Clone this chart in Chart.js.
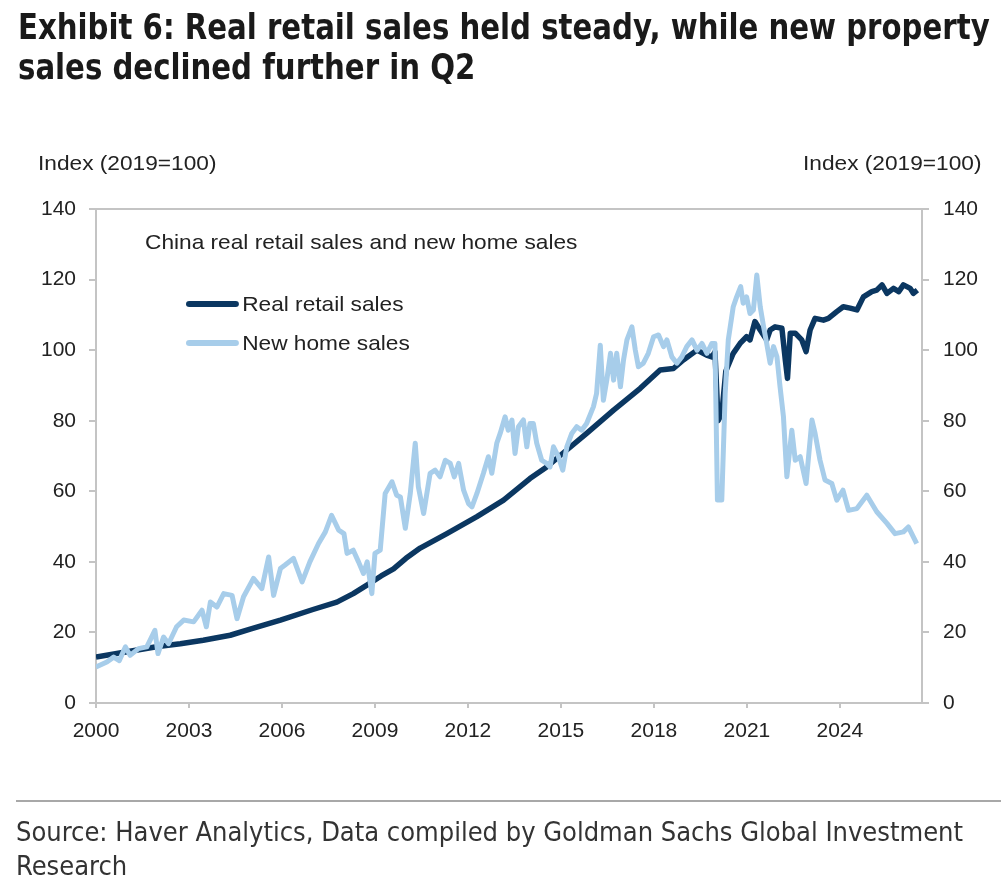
<!DOCTYPE html>
<html>
<head>
<meta charset="utf-8">
<script src="https://cdn.jsdelivr.net/npm/chart.js@4.4.1/dist/chart.umd.min.js"></script>
<style>
  html, body { margin: 0; padding: 0; background: #fff; }
  body { width: 1008px; height: 880px; position: relative; overflow: hidden; font-family: "Liberation Sans", Arial, sans-serif; color: #222; }
  #chart { position: absolute; left: 0; top: 0; }
  .title { position: absolute; left: 18px; font-family: "DejaVu Sans", sans-serif; font-stretch: condensed; font-weight: bold; font-size: 35px; line-height: 40px; color: #1a1a1a; white-space: nowrap; transform-origin: 0 0; }
  .wide { position: absolute; white-space: nowrap; transform-origin: 0 50%; transform: scaleX(1.08); }
  .axis-title { top: 151px; font-size: 21px; }
  .subtitle { left: 145px; top: 230px; font-size: 21px; }
  .legend { left: 186px; font-size: 21px; }
  .legend span.key { display: inline-block; width: 49px; height: 6px; border-radius: 3px; vertical-align: middle; margin-right: 3px; position: relative; top: -1px; }
  .rule { position: absolute; left: 16px; top: 800px; width: 985px; height: 2px; background: #a8a8a8; }
  .source { position: absolute; left: 16px; top: 815px; font-family: "DejaVu Sans", sans-serif; font-stretch: condensed; font-size: 27px; line-height: 34px; color: #333; }
</style>
</head>
<body>
<canvas id="chart" width="1008" height="880"></canvas>
<div class="title" id="t1" style="top:7px">Exhibit 6: Real retail sales held steady, while new property</div>
<div class="title" id="t2" style="top:47px">sales declined further in Q2</div>
<div class="wide axis-title" style="left:38px">Index (2019=100)</div>
<div class="wide axis-title" style="left:803px">Index (2019=100)</div>
<div class="wide subtitle">China real retail sales and new home sales</div>
<div class="wide legend" style="top:292px"><span class="key" style="background:#0b3761"></span>Real retail sales</div>
<div class="wide legend" style="top:331px"><span class="key" style="background:#a7cdea"></span>New home sales</div>
<div class="rule"></div>
<div class="source">Source: Haver Analytics, Data compiled by Goldman Sachs Global Investment<br>Research</div>
<script>
// Real retail sales, index 2019=100
const retailYears = [
  2000.00, 2001.00, 2002.00, 2002.72, 2003.46, 2004.33, 2005.00, 2005.95, 2007.00, 2007.77,
  2008.30, 2008.74, 2009.20, 2009.60, 2010.00, 2010.46, 2011.32, 2012.29, 2013.15, 2014.00,
  2014.54, 2015.19, 2015.83, 2016.70, 2017.56, 2018.20, 2018.63, 2018.95, 2019.39, 2019.70,
  2019.87, 2019.97, 2020.07, 2020.19, 2020.32, 2020.56, 2020.78, 2020.99, 2021.10, 2021.26,
  2021.43, 2021.64, 2021.75, 2021.91, 2022.13, 2022.24, 2022.31, 2022.40, 2022.56, 2022.77,
  2022.91, 2023.04, 2023.20, 2023.47, 2023.63, 2023.90, 2024.11, 2024.33, 2024.55, 2024.76,
  2025.03, 2025.19, 2025.36, 2025.52, 2025.73, 2025.90, 2026.05, 2026.27, 2026.37, 2026.50
];
const retailValues = [
  13.0, 14.5, 16.0, 16.8, 17.8, 19.2, 21.0, 23.5, 26.5, 28.6,
  31.0, 33.4, 36.0, 38.0, 41.0, 43.9, 48.0, 52.8, 57.5, 63.6,
  66.9, 71.7, 76.4, 83.0, 89.2, 94.4, 94.8, 97.2, 100.0, 98.6,
  98.1, 99.5, 80.0, 82.0, 94.0, 99.1, 101.9, 103.8, 102.9, 108.1,
  105.7, 102.9, 105.7, 106.6, 106.2, 97.2, 92.0, 104.8, 104.8, 102.9,
  99.6, 105.7, 109.0, 108.5, 109.0, 110.9, 112.3, 111.9, 111.4, 115.1,
  116.6, 117.0, 118.5, 116.1, 117.5, 116.6, 118.5, 117.5, 116.1, 117.0
];

// New home sales, index 2019=100
const homeYears = [
  2000.00, 2000.35, 2000.57, 2000.75, 2000.95, 2001.10, 2001.37, 2001.64, 2001.90, 2002.00,
  2002.18, 2002.34, 2002.60, 2002.83, 2003.15, 2003.42, 2003.56, 2003.69, 2003.90, 2004.12,
  2004.39, 2004.55, 2004.76, 2005.08, 2005.35, 2005.57, 2005.73, 2005.95, 2006.10, 2006.37,
  2006.65, 2006.90, 2007.18, 2007.40, 2007.60, 2007.83, 2008.00, 2008.10, 2008.30, 2008.47,
  2008.63, 2008.75, 2008.90, 2009.00, 2009.17, 2009.33, 2009.55, 2009.70, 2009.82, 2009.98,
  2010.14, 2010.30, 2010.40, 2010.57, 2010.78, 2010.94, 2011.10, 2011.27, 2011.43, 2011.56,
  2011.70, 2011.86, 2012.02, 2012.13, 2012.29, 2012.50, 2012.66, 2012.77, 2012.93, 2013.04,
  2013.20, 2013.30, 2013.42, 2013.52, 2013.63, 2013.79, 2013.90, 2014.00, 2014.11, 2014.22,
  2014.38, 2014.54, 2014.65, 2014.76, 2014.92, 2015.06, 2015.19, 2015.35, 2015.51, 2015.67,
  2015.83, 2016.05, 2016.15, 2016.27, 2016.37, 2016.48, 2016.60, 2016.70, 2016.80, 2016.92,
  2017.02, 2017.13, 2017.29, 2017.40, 2017.50, 2017.66, 2017.82, 2017.99, 2018.15, 2018.31,
  2018.42, 2018.58, 2018.74, 2018.90, 2019.06, 2019.23, 2019.39, 2019.55, 2019.71, 2019.87,
  2019.97, 2020.05, 2020.19, 2020.30, 2020.40, 2020.56, 2020.67, 2020.80, 2020.88, 2020.99,
  2021.10, 2021.21, 2021.32, 2021.43, 2021.54, 2021.64, 2021.75, 2021.86, 2021.97, 2022.07,
  2022.18, 2022.29, 2022.45, 2022.56, 2022.72, 2022.91, 2023.10, 2023.20, 2023.36, 2023.52,
  2023.74, 2023.90, 2024.10, 2024.28, 2024.55, 2024.87, 2025.19, 2025.52, 2025.78, 2026.05,
  2026.21, 2026.48
];
const homeValues = [
  10.2, 11.6, 13.0, 12.0, 15.9, 13.5, 15.4, 15.9, 20.6, 14.0,
  18.7, 16.8, 21.6, 23.5, 23.0, 26.3, 21.6, 28.6, 27.2, 31.0,
  30.5, 23.9, 30.1, 35.3, 32.4, 41.4, 30.5, 38.1, 39.1, 41.0,
  34.3, 40.0, 45.2, 48.5, 53.2, 49.0, 48.0, 42.4, 43.3, 40.0,
  36.7, 40.0, 31.0, 42.4, 43.3, 59.4, 62.7, 58.9, 58.4, 49.5,
  59.4, 73.6, 61.3, 53.7, 65.1, 66.0, 64.1, 68.8, 67.9, 64.1,
  67.9, 60.3, 56.5, 55.6, 59.4, 65.1, 69.8, 65.1, 73.6, 76.4,
  81.1, 77.3, 80.2, 70.7, 78.3, 80.2, 72.6, 79.2, 79.2, 73.6,
  68.8, 67.9, 66.9, 72.6, 69.8, 66.0, 72.6, 76.4, 78.3, 77.3,
  79.2, 84.0, 87.7, 101.4, 85.8, 91.5, 99.1, 91.5, 99.1, 89.6,
  97.2, 102.9, 106.6, 100.0, 95.3, 96.3, 99.1, 103.8, 104.3, 101.0,
  102.9, 98.1, 96.3, 98.1, 101.0, 102.9, 100.0, 101.9, 99.1, 101.9,
  101.9, 57.5, 57.5, 87.7, 102.9, 112.3, 115.1, 118.0, 113.3, 115.1,
  110.4, 111.4, 121.3, 112.3, 106.6, 101.9, 96.3, 101.0, 98.1, 89.6,
  81.1, 64.1, 77.3, 68.8, 69.8, 62.2, 80.2, 76.4, 68.8, 63.2,
  62.2, 57.5, 60.3, 54.6, 55.1, 58.9, 54.2, 50.9, 48.0, 48.5,
  49.9, 45.2
];

const yearTicks = [2000, 2003, 2006, 2009, 2012, 2015, 2018, 2021, 2024];
const valueTicks = [0, 20, 40, 60, 80, 100, 120, 140];

const axisGrey = '#c4c4c4';
const tickFont = { family: '"Liberation Sans", Arial, sans-serif', size: 21 };

// squeeze the title lines to the width of the original heading
const t1 = document.getElementById('t1');
const squeeze = 972 / t1.offsetWidth;
['t1', 't2'].forEach(id => {
    document.getElementById(id).style.transform = 'scaleX(' + squeeze + ')';
});

function toPoints(xs, ys) {
    return xs.map((x, i) => ({ x: x, y: ys[i] }));
}

// top border line of the plot (the 140 line)
const topLine = {
    id: 'topLine',
    afterDraw(chart) {
        const a = chart.chartArea;
        const ctx = chart.ctx;
        ctx.save();
        ctx.strokeStyle = axisGrey;
        ctx.lineWidth = 2;
        ctx.beginPath();
        ctx.moveTo(a.left, a.top);
        ctx.lineTo(a.right, a.top);
        ctx.stroke();
        ctx.restore();
    }
};

function valueAxis(position, width, pad) {
    return {
        type: 'linear',
        position: position,
        min: 0,
        max: 140,
        afterBuildTicks: scale => { scale.ticks = valueTicks.map(v => ({ value: v })); },
        afterFit: scale => { scale.width = width; },
        grid: { drawOnChartArea: false, drawTicks: true, tickLength: 7, color: axisGrey, lineWidth: 2 },
        border: { display: true, color: axisGrey, width: 2 },
        ticks: { color: '#222', font: tickFont, padding: pad }
    };
}

new Chart(document.getElementById('chart'), {
    type: 'line',
    data: {
        datasets: [
            {
                label: 'Real retail sales',
                data: toPoints(retailYears, retailValues),
                borderColor: '#0b3761',
                borderWidth: 5.5,
                borderJoinStyle: 'round',
                pointRadius: 0,
                tension: 0,
                order: 1
            },
            {
                label: 'New home sales',
                data: toPoints(homeYears, homeValues),
                borderColor: '#a7cdea',
                borderWidth: 5,
                borderJoinStyle: 'round',
                pointRadius: 0,
                tension: 0,
                order: 0
            }
        ]
    },
    options: {
        responsive: false,
        animation: false,
        layout: { padding: { left: 0, right: 0, top: 209, bottom: 137 } },
        plugins: { legend: { display: false }, tooltip: { enabled: false } },
        scales: {
            x: {
                type: 'linear',
                min: 2000,
                max: 2026.65,
                afterBuildTicks: scale => { scale.ticks = yearTicks.map(v => ({ value: v })); },
                afterFit: scale => { scale.height = 40; },
                grid: { drawOnChartArea: false, drawTicks: true, tickLength: 5, color: axisGrey, lineWidth: 2 },
                border: { display: true, color: axisGrey, width: 2 },
                ticks: { color: '#222', font: tickFont, padding: 11, maxRotation: 0, callback: v => String(v) }
            },
            y: valueAxis('left', 96, 13),
            y2: valueAxis('right', 86, 14)
        }
    },
    plugins: [topLine]
});
</script>
</body>
</html>
